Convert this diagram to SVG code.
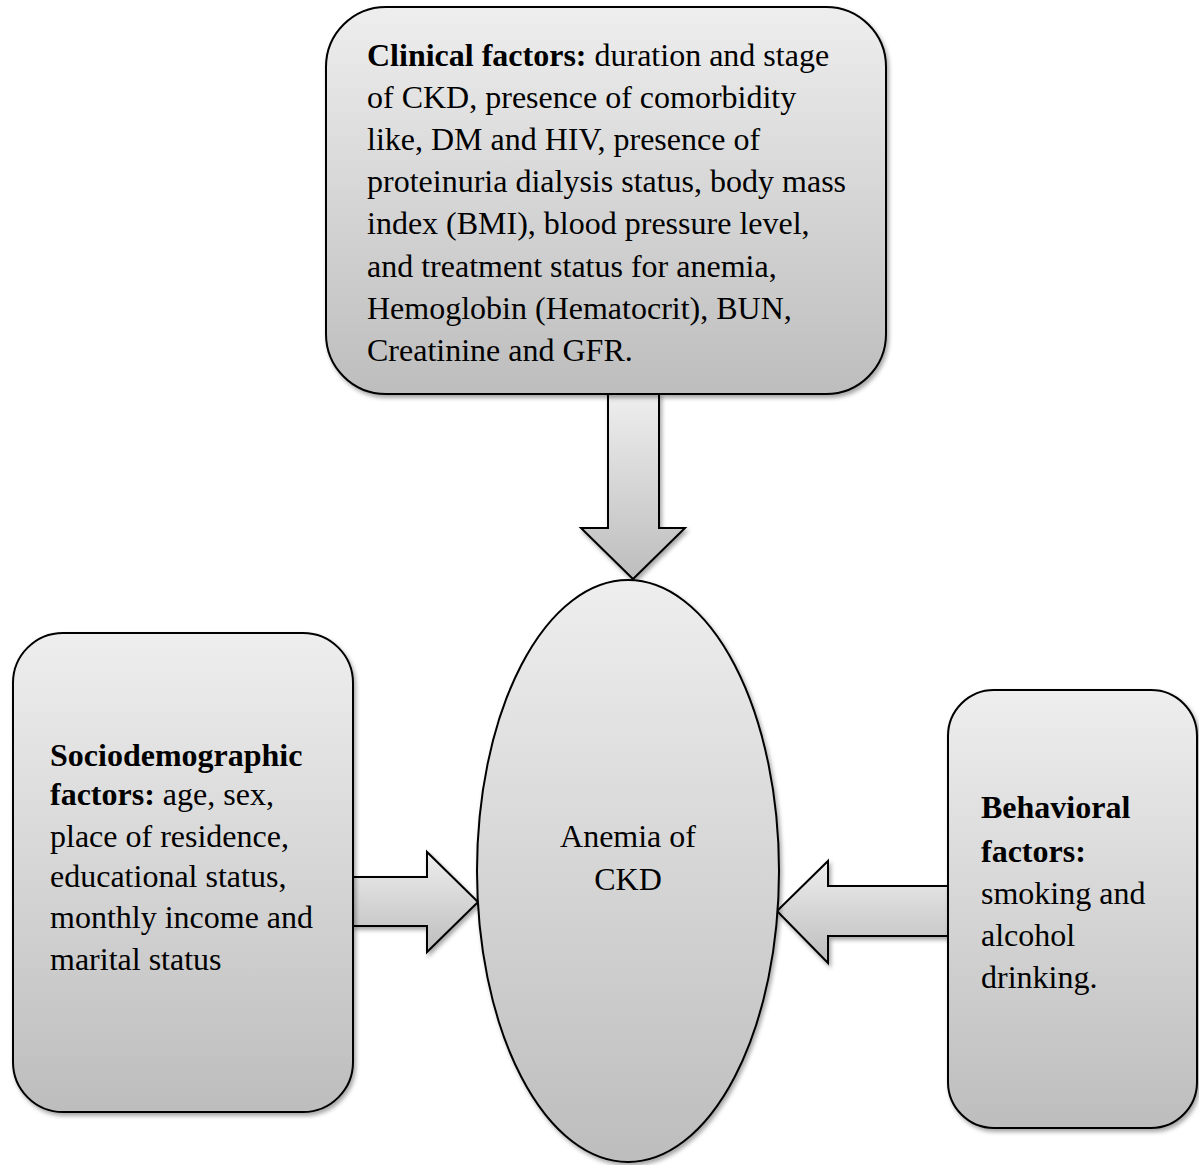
<svg xmlns="http://www.w3.org/2000/svg" width="1199" height="1165" viewBox="0 0 1199 1165">
<defs>
<linearGradient id="gv" x1="0" y1="0" x2="0" y2="1">
<stop offset="0" stop-color="#eeeeee"/>
<stop offset="1" stop-color="#bdbdbd"/>
</linearGradient>
<filter id="sh" x="-10%" y="-10%" width="120%" height="120%">
<feDropShadow dx="2" dy="3" stdDeviation="2" flood-color="#000" flood-opacity="0.35"/>
</filter>
<style>
.shape{fill:url(#gv);stroke:#000;stroke-width:2;filter:url(#sh);}
.t{font-family:"Liberation Serif","Times New Roman",serif;font-size:32px;fill:#000;}
.b{font-weight:bold;}
</style>
</defs>
<rect width="1199" height="1165" fill="#fff"/>
<g id="connectors">
<path class="shape" d="M608,394 L659,394 L659,528 L685,528 L633,579 L581,528 L608,528 Z"/>
<path class="shape" d="M353,877 L427,877 L427,852 L478,902 L427,952 L427,926 L353,926 Z"/>
<path class="shape" d="M948,886 L828,886 L828,861 L777,911 L828,963 L828,936 L948,936 Z"/>
</g>
<g id="clinical">
<rect class="shape" x="326" y="7" width="560" height="387" rx="60" ry="60"/>
<text class="t" x="367" y="66"><tspan class="b">Clinical factors:</tspan> duration and stage</text>
<text class="t" x="367" y="108">of CKD, presence of comorbidity</text>
<text class="t" x="367" y="150">like, DM and HIV, presence of</text>
<text class="t" x="367" y="192">proteinuria dialysis status, body mass</text>
<text class="t" x="367" y="234">index (BMI), blood pressure level,</text>
<text class="t" x="367" y="277">and treatment status for anemia,</text>
<text class="t" x="367" y="319">Hemoglobin (Hematocrit), BUN,</text>
<text class="t" x="367" y="361">Creatinine and GFR.</text>
</g>
<g id="anemia">
<ellipse class="shape" cx="628" cy="871" rx="151" ry="291"/>
<text class="t" x="628" y="847" text-anchor="middle">Anemia of</text>
<text class="t" x="628" y="890" text-anchor="middle">CKD</text>
</g>
<g id="sociodemographic">
<rect class="shape" x="13" y="633" width="340" height="479" rx="50" ry="50"/>
<text class="t" x="50" y="766"><tspan class="b">Sociodemographic</tspan></text>
<text class="t" x="50" y="805"><tspan class="b">factors:</tspan> age, sex,</text>
<text class="t" x="50" y="847">place of residence,</text>
<text class="t" x="50" y="887">educational status,</text>
<text class="t" x="50" y="928">monthly income and</text>
<text class="t" x="50" y="970">marital status</text>
</g>
<g id="behavioral">
<rect class="shape" x="948" y="690" width="249" height="438" rx="46" ry="46"/>
<text class="t b" x="981" y="818">Behavioral</text>
<text class="t b" x="981" y="862">factors:</text>
<text class="t" x="981" y="904">smoking and</text>
<text class="t" x="981" y="946">alcohol</text>
<text class="t" x="981" y="988">drinking.</text>
</g>
</svg>
